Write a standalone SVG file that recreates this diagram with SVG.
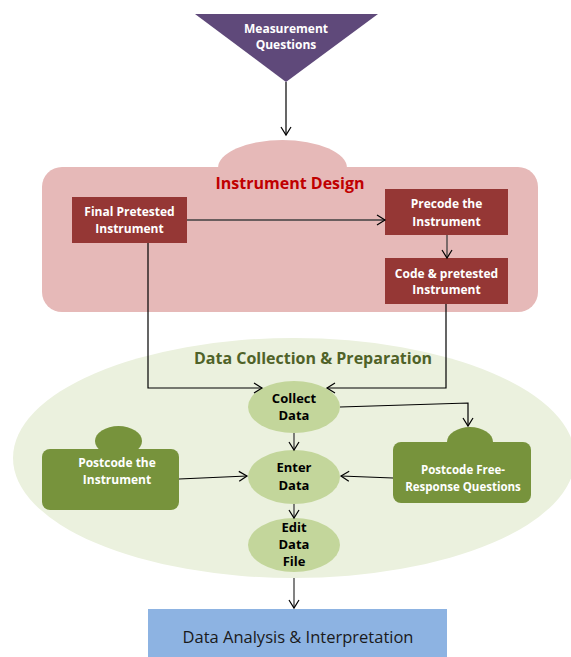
<svg xmlns="http://www.w3.org/2000/svg" width="571" height="657" viewBox="0 0 571 657">
<defs>
<marker id="arr" markerUnits="userSpaceOnUse" markerWidth="12" markerHeight="12" viewBox="0 0 12 12" refX="10" refY="6" orient="auto">
<path d="M2,1 L10,6 L2,11" fill="none" stroke="#000" stroke-width="1.2"/>
</marker>
</defs>
<style>
.t{font-family:"Open Sans","Liberation Sans",sans-serif;font-weight:bold;text-anchor:middle}
.w{fill:#ffffff;font-size:12px}
.k{fill:#000000;font-size:13px}
.c{fill:none;stroke:#000;stroke-width:1.2;marker-end:url(#arr)}
.g{fill:none;stroke:#404040;stroke-width:1.3;marker-end:url(#arr)}
.red{fill:#953735}
.grn{fill:#77933c}
.lg{fill:#c3d69b}
</style>
<rect width="571" height="657" fill="#ffffff"/>
<g id="data-collection-area">
<ellipse cx="294" cy="458" rx="281" ry="120" fill="#ebf1de"/>
<text class="t" x="313" y="364" style="fill:#4f6228;font-size:16px">Data Collection &amp; Preparation</text>
</g>
<g id="instrument-design">
<ellipse cx="282.5" cy="168" rx="64.5" ry="28" fill="#e6b9b8"/>
<rect x="42" y="167" width="496" height="145" rx="20" fill="#e6b9b8"/>
<text class="t" x="290" y="189" style="fill:#c00000;font-size:16px">Instrument Design</text>
</g>
<g id="measurement-questions">
<polygon points="195,14 378,14 286,82" fill="#5f497a"/>
<text class="t w" x="286" y="33">Measurement</text>
<text class="t w" x="286" y="49">Questions</text>
</g>
<g id="final-pretested">
<rect class="red" x="72" y="197" width="115" height="46"/>
<text class="t w" x="129.5" y="216">Final Pretested</text>
<text class="t w" x="129.5" y="233">Instrument</text>
</g>
<g id="precode">
<rect class="red" x="385" y="189" width="123" height="46"/>
<text class="t w" x="446.5" y="208">Precode the</text>
<text class="t w" x="446.5" y="226">Instrument</text>
</g>
<g id="code-pretested">
<rect class="red" x="385" y="258" width="123" height="46"/>
<text class="t w" x="446.5" y="278">Code &amp; pretested</text>
<text class="t w" x="446.5" y="294">Instrument</text>
</g>
<g id="collect-data">
<ellipse class="lg" cx="294" cy="407" rx="46" ry="26"/>
<text class="t k" x="294" y="403">Collect</text>
<text class="t k" x="294" y="420">Data</text>
</g>
<g id="enter-data">
<ellipse class="lg" cx="294" cy="477" rx="46" ry="27"/>
<text class="t k" x="294" y="472">Enter</text>
<text class="t k" x="294" y="490">Data</text>
</g>
<g id="edit-data-file">
<ellipse class="lg" cx="294" cy="545" rx="46" ry="27"/>
<text class="t k" x="294" y="532">Edit</text>
<text class="t k" x="294" y="549">Data</text>
<text class="t k" x="294" y="566">File</text>
</g>
<g id="postcode-instrument">
<ellipse class="grn" cx="118.5" cy="441" rx="23.5" ry="15"/>
<rect class="grn" x="42" y="449" width="137" height="61" rx="8"/>
<text class="t w" x="117" y="467">Postcode the</text>
<text class="t w" x="117" y="484">Instrument</text>
</g>
<g id="postcode-free-response">
<ellipse class="grn" cx="470" cy="442" rx="23" ry="15"/>
<rect class="grn" x="393" y="442" width="138" height="61" rx="8"/>
<text class="t w" x="463" y="474" style="font-size:11.5px">Postcode Free-</text>
<text class="t w" x="463" y="491" style="font-size:11.5px">Response Questions</text>
</g>
<g id="data-analysis">
<rect x="148" y="609" width="299" height="48" fill="#8db3e2"/>
<text x="298" y="643" style="font-family:'Open Sans','Liberation Sans',sans-serif;font-size:16.5px;fill:#1a1a1a;text-anchor:middle">Data Analysis &amp; Interpretation</text>
</g>
<g id="connectors">
<path class="c" d="M286,82 L286,135"/>
<path class="g" d="M187,220 L385,220"/>
<path class="g" d="M447,235 L447,258"/>
<path class="c" d="M148,243 L148,388 L262,388"/>
<path class="c" d="M446,304 L446,388 L327,388"/>
<path class="c" d="M340,407 L468,403 L468,426"/>
<path class="g" d="M294,433 L294,450"/>
<path class="c" d="M179,479 L247,476"/>
<path class="c" d="M393,478 L341,476"/>
<path class="g" d="M294,504 L294,518"/>
<path class="g" d="M294,578 L294,608"/>
</g>
</svg>
